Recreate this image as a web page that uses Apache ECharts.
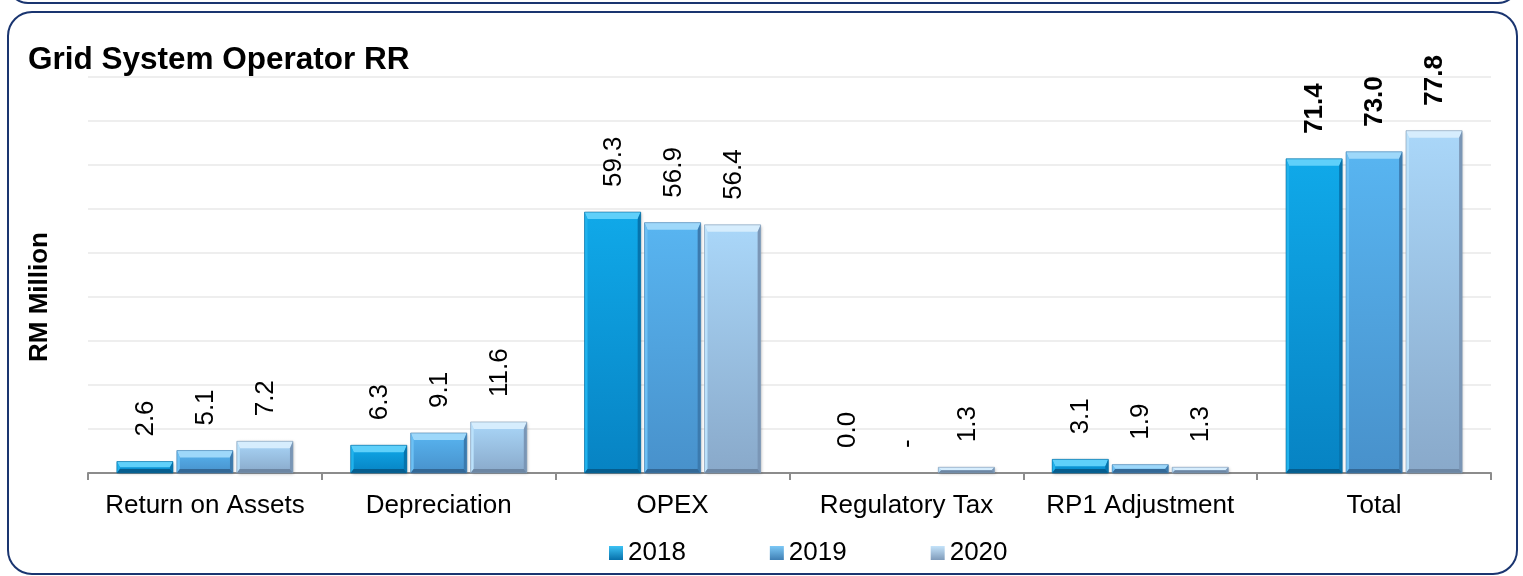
<!DOCTYPE html>
<html>
<head>
<meta charset="utf-8">
<title>Grid System Operator RR</title>
<script src="https://cdn.jsdelivr.net/npm/echarts@6/dist/echarts.min.js"></script>
<style>
  html, body { margin: 0; padding: 0; background: #ffffff; }
  #chart { width: 1523px; height: 576px; }
</style>
</head>
<body>
<div id="chart"></div>
<script>
// Revenue requirement components, RM million
const categories = ['Return on Assets', 'Depreciation', 'OPEX', 'Regulatory Tax', 'RP1 Adjustment', 'Total'];
const years = ['2018', '2019', '2020'];
const values2018 = [2.6, 6.3, 59.3, 0.0, 3.1, 71.4];
const values2019 = [5.1, 9.1, 56.9, null, 1.9, 73.0];   // null is shown as "-"
const values2020 = [7.2, 11.6, 56.4, 1.3, 1.3, 77.8];
const yTicks = { min: 0, max: 90, interval: 10 };

const FONT = '"Liberation Sans", Arial, Helvetica, sans-serif';

// bevelled bar palette per year
const palettes = [
  { faceTop: '#10a9e9', faceBottom: '#0783c3', topBevel: '#5fd0fa', left: '#20b2ec', right: '#0674ad', bottom: '#055d8e', line: '#0a6a9f', legendTop: '#3cc2f4', legendBottom: '#0770aa' },
  { faceTop: '#58b5f1', faceBottom: '#4891cb', topBevel: '#9ed8fa', left: '#6cc0f4', right: '#3b7aae', bottom: '#336896', line: '#4a80ae', legendTop: '#7cc8f6', legendBottom: '#3f7fb4' },
  { faceTop: '#aad7f9', faceBottom: '#89a9ca', topBevel: '#d6edfd', left: '#bae1fb', right: '#7a96b6', bottom: '#6c86a3', line: '#8299b2', legendTop: '#c4e3fa', legendBottom: '#7f9bba' }
];
const seriesValues = [values2018, values2019, values2020];

function makeRenderer(sIdx) {
  const pal = palettes[sIdx];
  const vals = seriesValues[sIdx];
  const bold = (i) => categories[i] === 'Total';
  return function (params, api) {
    const ci = params.dataIndex;
    const raw = vals[ci];
    const v = raw == null ? 0 : raw;
    const band = api.size([1, 0])[0];
    const barW = band * 0.24;
    const step = band * 0.2565;
    const base = api.coord([ci, 0]);
    const top = api.coord([ci, v]);
    const cx = base[0] + (sIdx - 1) * step;
    const x0 = cx - barW / 2;
    const y0 = top[1];
    const h = base[1] - top[1];
    const children = [];
    if (h > 0.5) {
      const tb = Math.min(7, h / 2);
      const sb = Math.min(3, h / 2);
      const bb = Math.min(4, h / 2);
      const x1 = x0 + barW, y1 = y0 + h;
      children.push({
        type: 'rect',
        shape: { x: x0, y: y0, width: barW, height: h },
        style: {
          fill: new echarts.graphic.LinearGradient(0, 0, 0, 1, [
            { offset: 0, color: pal.faceTop },
            { offset: 1, color: pal.faceBottom }
          ]),
          shadowBlur: 3, shadowColor: 'rgba(0,0,0,0.25)', shadowOffsetX: 1, shadowOffsetY: 1
        }
      });
      children.push({ type: 'polygon', shape: { points: [[x0, y0], [x1, y0], [x1 - sb, y0 + tb], [x0 + sb, y0 + tb]] }, style: { fill: pal.topBevel } });
      children.push({ type: 'polygon', shape: { points: [[x0, y0], [x0 + sb, y0 + tb], [x0 + sb, y1 - bb], [x0, y1]] }, style: { fill: pal.left } });
      children.push({ type: 'polygon', shape: { points: [[x1, y0], [x1 - sb, y0 + tb], [x1 - sb, y1 - bb], [x1, y1]] }, style: { fill: pal.right } });
      children.push({ type: 'polygon', shape: { points: [[x0, y1], [x0 + sb, y1 - bb], [x1 - sb, y1 - bb], [x1, y1]] }, style: { fill: pal.bottom } });
      children.push({ type: 'rect', shape: { x: x0, y: y0, width: barW, height: h }, style: { fill: 'none', stroke: pal.line, lineWidth: 1, opacity: 0.6 } });
    }
    // value label, rotated to read bottom-to-top above the bar
    children.push({
      type: 'text',
      x: cx + 1,
      y: y0 - 25,
      rotation: Math.PI / 2,
      style: {
        text: raw == null ? '-' : raw.toFixed(1),
        fill: '#000000',
        font: (bold(ci) ? 'bold ' : '') + '26px ' + FONT,
        align: 'left',
        verticalAlign: 'middle'
      }
    });
    return { type: 'group', children: children };
  };
}

const chart = echarts.init(document.getElementById('chart'), null, { renderer: 'canvas' });

const option = {
  backgroundColor: '#ffffff',
  animation: false,
  textStyle: { fontFamily: FONT },
  title: {
    text: 'Grid System Operator RR',
    left: 23,
    top: 39,
    textStyle: { fontFamily: FONT, fontSize: 31.5, fontWeight: 'bold', color: '#000000' }
  },
  grid: { left: 88, right: 32, top: 77, bottom: 103, containLabel: false },
  legend: {
    data: years.map((y, i) => ({
      name: y,
      itemStyle: {
        color: new echarts.graphic.LinearGradient(0, 0, 0, 1, [
          { offset: 0, color: palettes[i].legendTop },
          { offset: 1, color: palettes[i].legendBottom }
        ])
      }
    })),
    left: 604,
    top: 535,
    icon: 'rect',
    itemWidth: 14,
    itemHeight: 14,
    itemGap: 84,
    textStyle: { fontFamily: FONT, fontSize: 26, color: '#000000' }
  },
  xAxis: {
    type: 'category',
    data: categories,
    boundaryGap: true,
    axisLine: { show: true, lineStyle: { color: '#8c8c8c', width: 2 } },
    axisTick: { show: true, length: 7, lineStyle: { color: '#8c8c8c', width: 2 } },
    axisLabel: { fontFamily: FONT, fontSize: 26, color: '#000000', margin: 20, interval: 0 },
    splitLine: { show: false }
  },
  yAxis: {
    type: 'value',
    min: yTicks.min,
    max: yTicks.max,
    interval: yTicks.interval,
    axisLine: { show: false },
    axisTick: { show: false },
    axisLabel: { show: false },
    splitLine: { show: true, lineStyle: { color: '#eeeeee', width: 2 } }
  },
  graphic: [
    {
      type: 'rect',
      silent: true,
      shape: { x: 8, y: -40, width: 1510, height: 43, r: 20 },
      style: { fill: 'none', stroke: '#1a3570', lineWidth: 2 }
    },
    {
      type: 'rect',
      silent: true,
      shape: { x: 8, y: 12, width: 1509, height: 562, r: 24 },
      style: { fill: 'none', stroke: '#1a3570', lineWidth: 2 }
    },
    {
      type: 'text',
      silent: true,
      x: 40,
      y: 297,
      rotation: Math.PI / 2,
      style: {
        text: 'RM Million',
        fill: '#000000',
        font: 'bold 26px ' + FONT,
        align: 'center',
        verticalAlign: 'middle'
      }
    }
  ],
  series: years.map((y, sIdx) => ({
    type: 'custom',
    name: y,
    itemStyle: { color: palettes[sIdx].legendBottom },
    encode: { x: 0, y: 1 },
    data: seriesValues[sIdx].map((v, i) => [i, v == null ? 0 : v]),
    renderItem: makeRenderer(sIdx)
  }))
};

chart.setOption(option);
</script>
</body>
</html>
